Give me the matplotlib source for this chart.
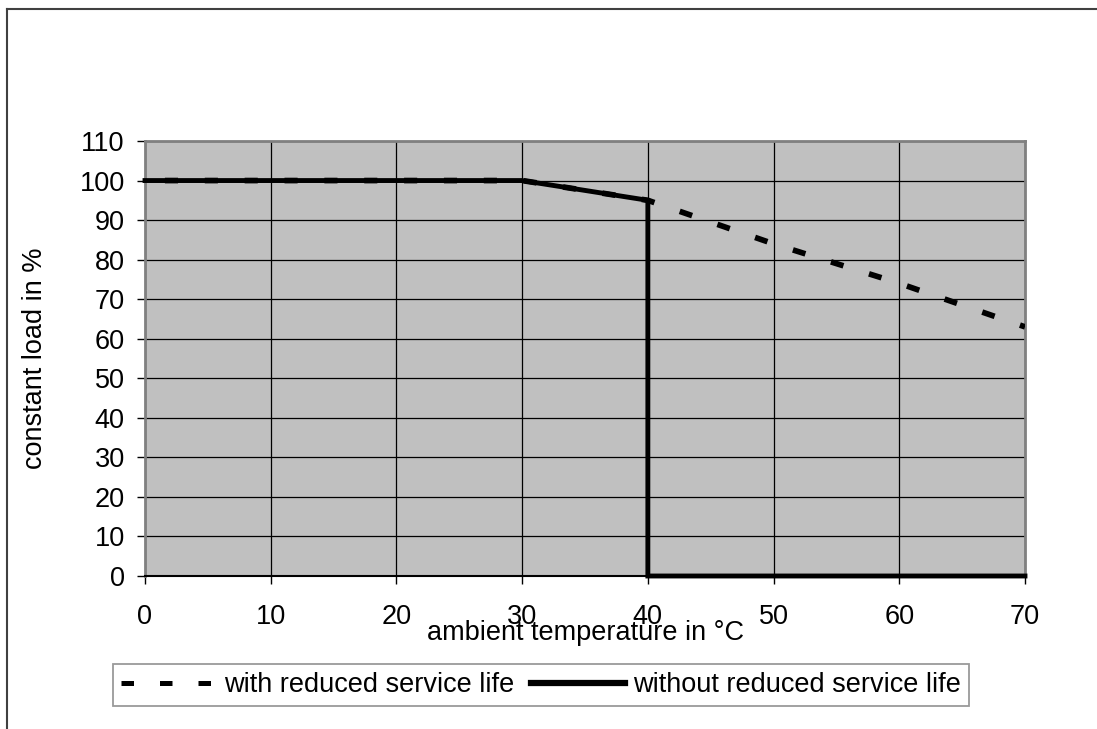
import matplotlib
matplotlib.use('Agg')
import matplotlib.pyplot as plt
from matplotlib.lines import Line2D

plt.rcParams['font.family'] = ['Liberation Sans', 'DejaVu Sans']

# data
temps = [0, 10, 20, 30, 40, 50, 60, 70]
load_reduced = [100, 100, 100, 100, 95, 84, 74, 63]          # with reduced service life
temps_std = [0, 10, 20, 30, 40, 40, 50, 60, 70]
load_std = [100, 100, 100, 100, 95, 0, 0, 0, 0]              # without reduced service life
labels = ['with reduced service life', 'without reduced service life']

W, H = 1097, 729
FS = 19.5
fig = plt.figure(figsize=(W / 100, H / 100), dpi=100)
ax = fig.add_axes([145 / W, 1 - 576 / H, (1025 - 145) / W, (576 - 141) / H])
ax.set_facecolor('#C0C0C0')

ax.plot(temps_std, load_std, color='black', lw=3.5, solid_joinstyle='miter',
        zorder=3, clip_on=False)
ax.plot(temps, load_reduced, color='black', lw=4.1, linestyle=(3.5, (2.3, 4.7)),
        dash_capstyle='butt', zorder=4)

ax.set_xlim(0, 70)
ax.set_ylim(0, 110)
ax.set_xticks(range(0, 71, 10))
ax.set_yticks(range(0, 111, 10))
ax.grid(True, color='black', lw=0.9)
ax.set_axisbelow(True)
ax.tick_params(axis='y', direction='out', length=6, width=1, pad=8.5, labelsize=FS)
ax.tick_params(axis='x', direction='out', length=6, width=1, pad=14, labelsize=FS)

for s in ['left', 'right', 'top']:
    ax.spines[s].set_color('#808080')
    ax.spines[s].set_linewidth(2)
ax.spines['bottom'].set_color('black')
ax.spines['bottom'].set_linewidth(1.5)

fig.text(427 / W, 1 - 640 / H, 'ambient temperature in °C', ha='left', va='baseline', fontsize=FS)
fig.text(35 / W, 1 - 358 / H, 'constant load in %', ha='center', va='center',
         rotation=90, fontsize=FS)

handles = [Line2D([], [], color='black', lw=3.6, dashes=(2.5, 5.2), dash_capstyle='butt'),
           Line2D([], [], color='black', lw=4.5)]
leg = fig.legend(handles, labels, loc='upper left', bbox_to_anchor=(113 / W, 1 - 664 / H), ncol=2,
                 fontsize=FS, frameon=True, fancybox=False, handlelength=3.5,
                 handletextpad=0.3, columnspacing=0.6, borderpad=0.3, borderaxespad=0)
leg.get_frame().set_edgecolor('#808080')
leg.get_frame().set_linewidth(1.3)

# outer chart border
fig.add_artist(Line2D([7 / W, 1], [1 - 9 / H, 1 - 9 / H], color='#404040', lw=1.5))
fig.add_artist(Line2D([7 / W, 7 / W], [0, 1 - 9 / H], color='#404040', lw=1.5))

fig.savefig('out.png', dpi=100)
